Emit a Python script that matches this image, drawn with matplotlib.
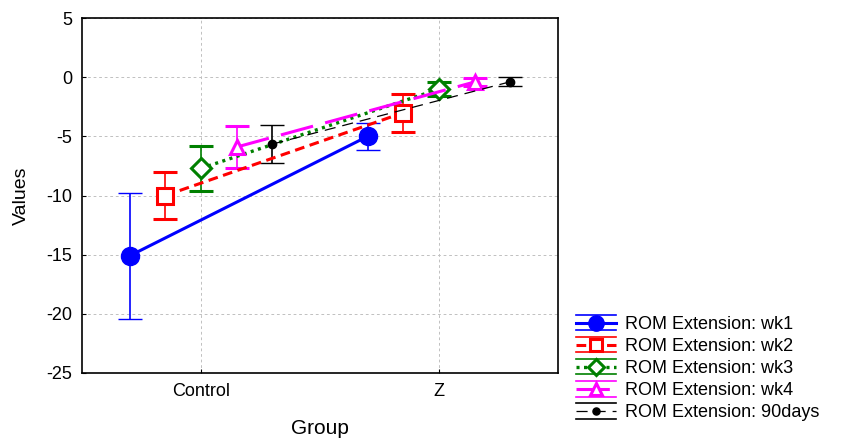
import numpy as np
import matplotlib
matplotlib.use("Agg")
import matplotlib.pyplot as plt
from matplotlib.lines import Line2D
from matplotlib.legend_handler import HandlerLine2D

plt.rcParams['font.family'] = ['Liberation Sans', 'DejaVu Sans']
plt.rcParams['lines.scale_dashes'] = False
plt.rcParams['axes.unicode_minus'] = False

groups = ["Control", "Z"]
series = ["ROM Extension: wk1", "ROM Extension: wk2", "ROM Extension: wk3",
          "ROM Extension: wk4", "ROM Extension: 90days"]
means = [[-15.1, -5.0],
         [-10.0, -3.0],
         [-7.7, -1.0],
         [-5.9, -0.4],
         [-5.65, -0.38]]
errs = [[5.35, 1.15],
        [2.0, 1.6],
        [1.9, 0.6],
        [1.75, 0.3],
        [1.62, 0.38]]

colors = ["#0000ff", "#ff0000", "#008000", "#ff00ff", "#000000"]
markers = ["o", "s", "D", "^", "o"]
msizes = [13, 11, 10, 10, 6]
lstyles = ["-", (0, (7, 4)), (0, (2.2, 3.2)), (0, (24, 9)), (0, (8, 5))]
lwidths = [2.2, 2.2, 2.4, 2.2, 0.9]
offsets = [-0.3, -0.15, 0.0, 0.15, 0.3]


# legend key like the original: line + marker with cap lines above and below
class HandlerErr(HandlerLine2D):
    def create_artists(self, legend, orig_handle, xdescent, ydescent,
                       width, height, fontsize, trans):
        arts = super().create_artists(legend, orig_handle, xdescent, ydescent,
                                      width, height, fontsize, trans)
        y0 = height / 2 - ydescent
        for dy in (-0.6 * height, 0.6 * height):
            arts.append(Line2D([-xdescent, -xdescent + width], [y0 + dy, y0 + dy],
                               color=orig_handle.get_color(), lw=1.2,
                               transform=trans))
        return arts


fig = plt.figure(figsize=(8.55, 4.41), dpi=100)
ax = fig.add_axes([0.0959, 0.1542, 0.5567, 0.8048])

x = np.arange(len(groups))
handles = []
for i in range(len(series)):
    filled = i in (0, 4)
    mfc = colors[i] if filled else "white"
    mew = 1 if filled else 2.2
    ax.errorbar(x + offsets[i], means[i], yerr=errs[i], color=colors[i],
                marker=markers[i], markersize=msizes[i],
                markerfacecolor=mfc, markeredgecolor=colors[i], markeredgewidth=mew,
                linestyle=lstyles[i], linewidth=lwidths[i],
                elinewidth=1.2, capsize=8.5, capthick=1.2, zorder=3)
    handles.append(Line2D([], [], color=colors[i], marker=markers[i],
                          markersize=msizes[i] * 0.85, markerfacecolor=mfc,
                          markeredgecolor=colors[i], markeredgewidth=mew,
                          linestyle=lstyles[i], linewidth=lwidths[i],
                          label=series[i]))

ax.set_xlim(-0.5, 1.5)
ax.set_ylim(-25, 5)
ax.set_xticks(x)
ax.set_xticklabels(groups)
ax.set_yticks(np.arange(-25, 6, 5))
ax.tick_params(direction="in", length=3, labelsize=13, pad=7)
ax.grid(True, color="#c0c0c0", linestyle=(0, (2, 2)), linewidth=0.7)
for s in ax.spines.values():
    s.set_linewidth(1.2)
ax.set_xlabel("Group", fontsize=15, labelpad=14)
ax.set_ylabel("Values", fontsize=14, labelpad=12)

fig.legend(handles=handles, loc="lower left", bbox_to_anchor=(0.661, 0.02),
           frameon=False, fontsize=13, handlelength=2.2, labelspacing=0.28,
           borderpad=0.1, handletextpad=0.5, numpoints=1,
           handler_map={Line2D: HandlerErr(numpoints=1)})

fig.savefig("out.png", dpi=100)
